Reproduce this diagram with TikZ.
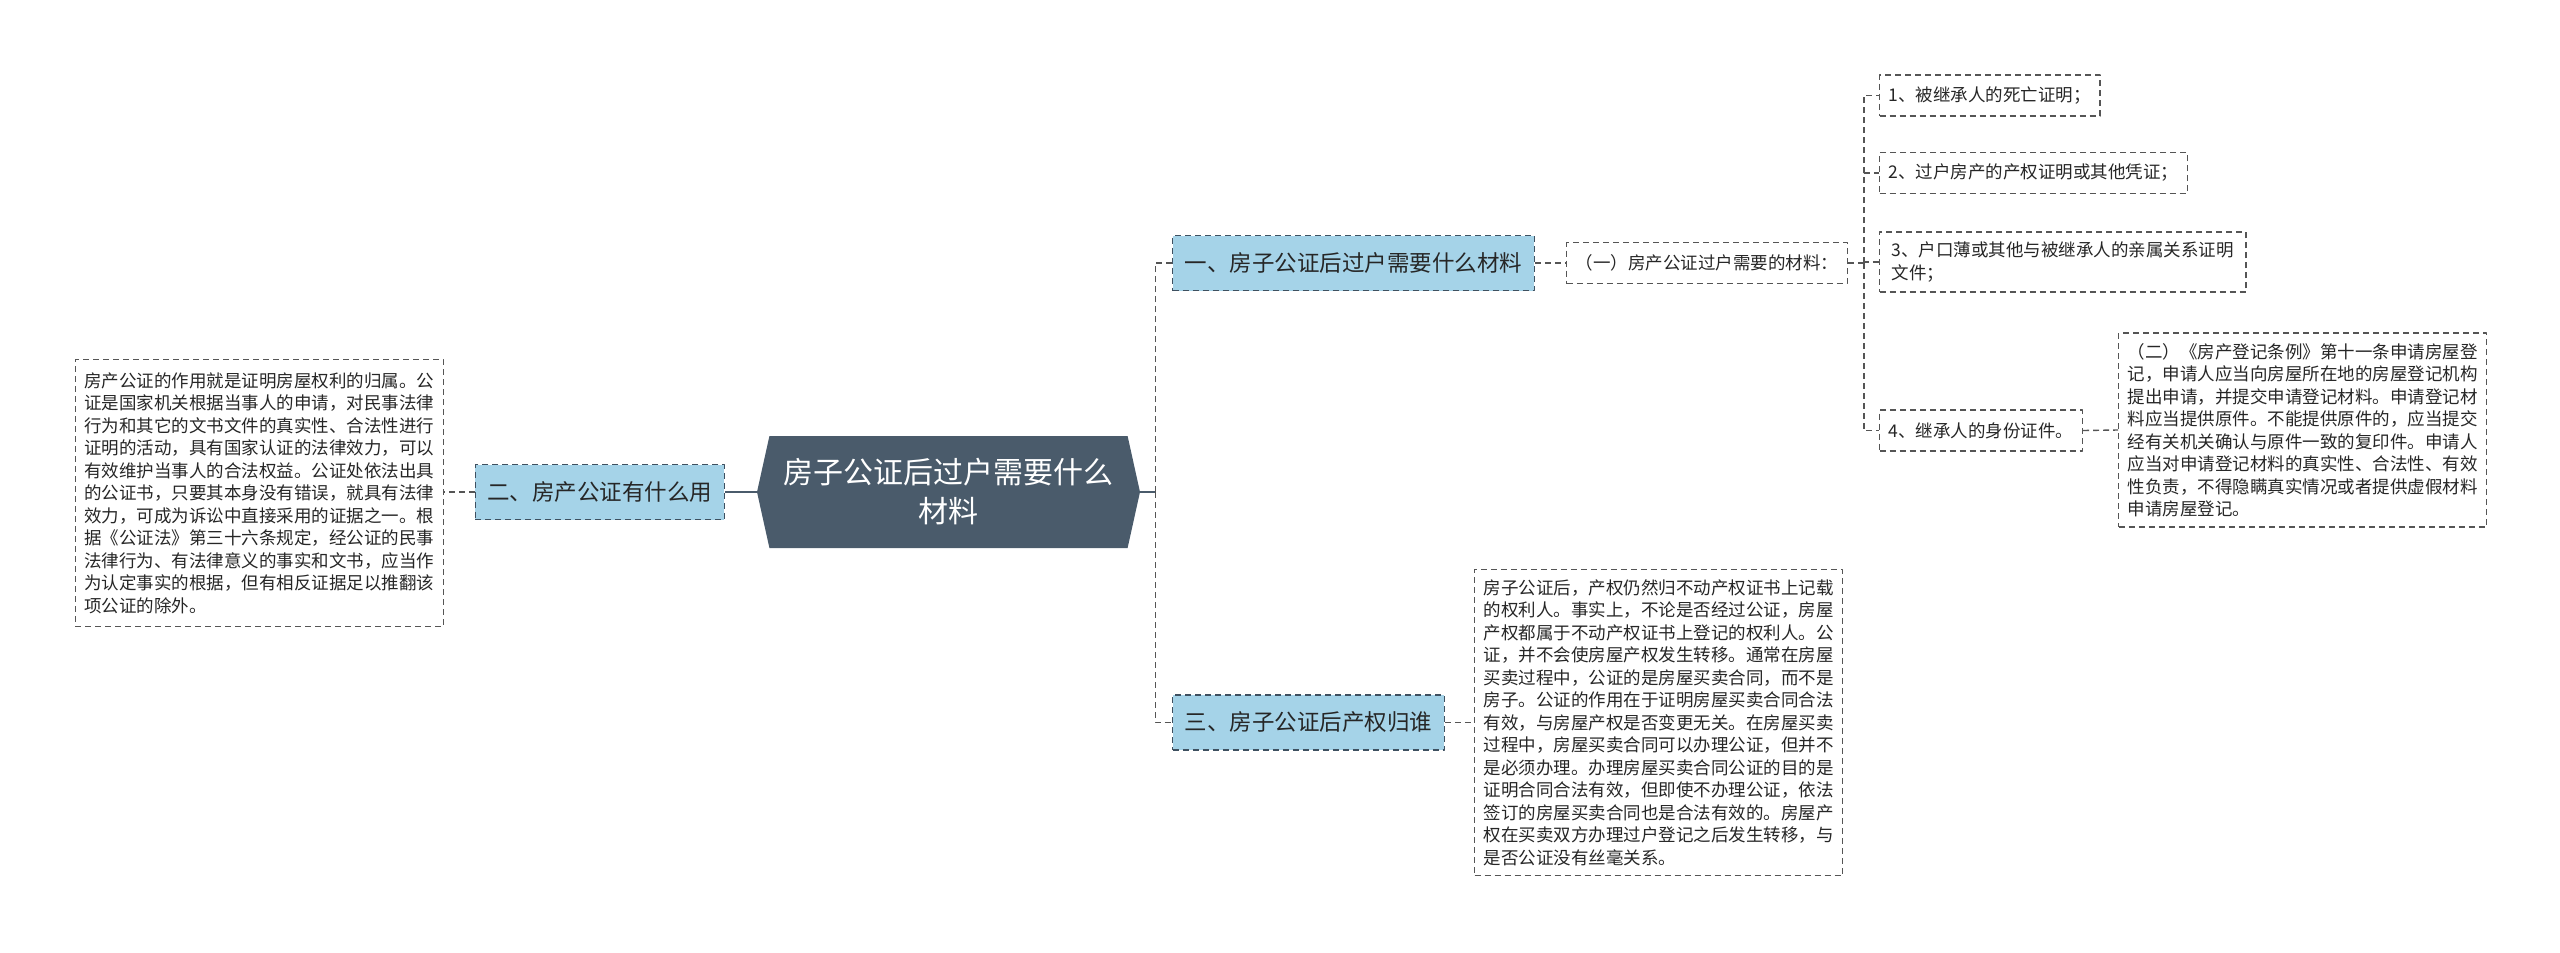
\documentclass[tikz,border=0pt]{standalone}
\usepackage{fontspec}
\setmainfont{Noto Sans CJK SC}
\usetikzlibrary{shapes.symbols}
\definecolor{rootfill}{HTML}{4A5B6B}
\definecolor{topicfill}{HTML}{A5D3E8}
\definecolor{topicline}{HTML}{3E5060}
\definecolor{leafline}{HTML}{555555}

\begin{document}
\begin{tikzpicture}[x=1pt, y=-1pt, line join=round,
    mainnode/.style={shape=signal, signal to=west and east, signal pointer angle=155,
      fill=rootfill, text=white, font=\fontsize{30}{39}\selectfont, align=center,
      minimum width=383pt, minimum height=112pt, inner sep=0pt},
    topicbox/.style={draw=topicline, fill=topicfill, dashed, dash pattern=on 6pt off 4pt,
      line width=1.4pt, text=black!85, font=\fontsize{22.5}{27}\selectfont,
      inner xsep=12pt, minimum height=55pt},
    leafbox/.style={draw=leafline, dash pattern=on 6pt off 4pt, line width=1.3pt,
      text=black!85, font=\fontsize{17.5}{22.5}\selectfont, align=left,
      inner xsep=9pt, inner ysep=10pt, minimum height=41pt},
    stem/.style={draw=rootfill, line width=2pt},
    link/.style={draw=leafline, line width=1.4pt, dash pattern=on 6pt off 4pt}]
  \useasboundingbox (0,0) rectangle (2560,953);

  % centre
  \node[mainnode] (main) at (948.5,492) {房子公证后过户需要什么\\材料};

  % branches
  \node[topicbox, anchor=west] (b1) at (1172,263) {一、房子公证后过户需要什么材料};
  \node[topicbox, anchor=east] (b2) at (725,492) {二、房产公证有什么用};
  \node[topicbox, anchor=west] (b3) at (1172,722.5) {三、房子公证后产权归谁};

  % branch one
  \node[leafbox, anchor=west] (mat) at (1566,263) {（一）房产公证过户需要的材料：};
  \node[leafbox, anchor=west] (item1) at (1879,95.5) {1、被继承人的死亡证明；};
  \node[leafbox, anchor=west] (item2) at (1879,173) {2、过户房产的产权证明或其他凭证；};
  \node[leafbox, anchor=west, inner xsep=12pt] (item3) at (1879,262) {3、户口薄或其他与被继承人的亲属关系证明\\文件；};
  \node[leafbox, anchor=west] (item4) at (1879,430.5) {4、继承人的身份证件。};
  \node[leafbox, anchor=west] (rule) at (2118,430) {（二）《房产登记条例》第十一条申请房屋登\\
    记，申请人应当向房屋所在地的房屋登记机构\\
    提出申请，并提交申请登记材料。申请登记材\\
    料应当提供原件。不能提供原件的，应当提交\\
    经有关机关确认与原件一致的复印件。申请人\\
    应当对申请登记材料的真实性、合法性、有效\\
    性负责，不得隐瞒真实情况或者提供虚假材料\\
    申请房屋登记。};

  % branch two
  \node[leafbox, anchor=east, inner ysep=13pt] (use) at (444,493) {房产公证的作用就是证明房屋权利的归属。公\\
    证是国家机关根据当事人的申请，对民事法律\\
    行为和其它的文书文件的真实性、合法性进行\\
    证明的活动，具有国家认证的法律效力，可以\\
    有效维护当事人的合法权益。公证处依法出具\\
    的公证书，只要其本身没有错误，就具有法律\\
    效力，可成为诉讼中直接采用的证据之一。根\\
    据《公证法》第三十六条规定，经公证的民事\\
    法律行为、有法律意义的事实和文书，应当作\\
    为认定事实的根据，但有相反证据足以推翻该\\
    项公证的除外。};

  % branch three
  \node[leafbox, anchor=west] (owner) at (1474,722.5) {房子公证后，产权仍然归不动产权证书上记载\\
    的权利人。事实上，不论是否经过公证，房屋\\
    产权都属于不动产权证书上登记的权利人。公\\
    证，并不会使房屋产权发生转移。通常在房屋\\
    买卖过程中，公证的是房屋买卖合同，而不是\\
    房子。公证的作用在于证明房屋买卖合同合法\\
    有效，与房屋产权是否变更无关。在房屋买卖\\
    过程中，房屋买卖合同可以办理公证，但并不\\
    是必须办理。办理房屋买卖合同公证的目的是\\
    证明合同合法有效，但即使不办理公证，依法\\
    签订的房屋买卖合同也是合法有效的。房屋产\\
    权在买卖双方办理过户登记之后发生转移，与\\
    是否公证没有丝毫关系。};

  % connectors
  \draw[stem] (main.east) -- ++(15,0) coordinate (jmain);
  \draw[stem] (main.west) -- (b2.east);
  \draw[link] (jmain) |- (b1.west);
  \draw[link] (jmain) |- (b3.west);
  \draw[link] (b2.west) -- (use.east |- b2.west);
  \draw[link] (b1.east) -- (mat.west);
  \draw[link] (mat.east) -- ++(16,0) coordinate (jmat);
  \draw[link] (jmat) |- (item1.west);
  \draw[link] (jmat) |- (item2.west);
  \draw[link] (jmat) |- (item3.west);
  \draw[link] (jmat) |- (item4.west);
  \draw[link] (item4.east) -- (rule.west);
  \draw[link] (b3.east) -- (owner.west);
\end{tikzpicture}
\end{document}
